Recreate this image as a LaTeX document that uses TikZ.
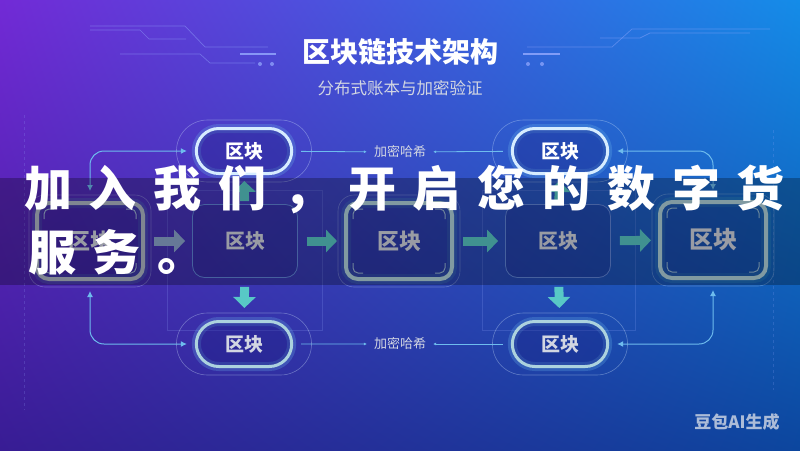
\documentclass[tikz,border=0pt]{standalone}
\usepackage{fontspec}
\newfontfamily\cjk{Noto Sans CJK SC}
\newfontfamily\cjkw[LetterSpace=35]{Noto Sans CJK SC}
\usetikzlibrary{arrows.meta,positioning,calc,fit,shapes.misc,shadings}
\definecolor{bgtl}{RGB}{114,42,214}
\definecolor{bgtr}{RGB}{20,140,232}
\definecolor{bgbl}{RGB}{56,28,148}
\definecolor{bgbr}{RGB}{12,70,158}
\definecolor{cglow}{RGB}{214,236,255}
\definecolor{cpill}{RGB}{172,210,222}
\definecolor{cbox}{RGB}{178,212,222}
\definecolor{cgray}{RGB}{176,184,200}
\definecolor{cthin}{RGB}{96,132,216}
\definecolor{cfill}{RGB}{24,24,120}
\definecolor{ctxt}{RGB}{210,214,226}
\definecolor{clnk}{RGB}{110,188,238}
\definecolor{cteal}{RGB}{88,200,198}
\definecolor{cslate}{RGB}{140,166,208}
\definecolor{cdeco}{RGB}{150,170,255}
\definecolor{cwm}{RGB}{172,188,216}
\tikzset{
  pill/.style={rounded rectangle, draw=cglow, line width=3pt, fill=cfill, fill opacity=0.3,
      text opacity=1, minimum width=102pt, minimum height=45pt, text=white,
      font=\cjk\bfseries\fontsize{19}{19}\selectfont,
      preaction={draw=clnk, line width=9pt, draw opacity=0.25}},
  pdim/.style={draw=cpill, text=ctxt},
  phal/.style={rounded rectangle, draw=cglow, draw opacity=0.35, line width=0.6pt, inner sep=7pt},
  blk/.style={draw=cthin, line width=0.8pt, rounded corners=12pt, fill=cfill, fill opacity=0.2,
      text opacity=1, minimum width=105pt, minimum height=73pt, text=ctxt,
      font=\cjk\bfseries\fontsize{20}{20}\selectfont},
  blkt/.style={blk, draw=cbox, line width=4pt, minimum width=106pt, minimum height=76pt,
      font=\cjk\bfseries\fontsize{22}{22}\selectfont,
      preaction={draw=cteal, line width=10pt, draw opacity=0.15}},
  hal/.style={draw=cglow, draw opacity=0.3, line width=0.6pt, rounded corners=16pt, inner sep=6pt},
  cmk/.style={draw=cbox, line width=1pt, rounded corners=5pt, draw opacity=0.8},
  hlab/.style={font=\cjk\fontsize{13}{13}\selectfont, text=ctxt, inner sep=2pt},
  hsh/.style={draw=clnk, line width=0.8pt, -{Latex[length=3pt,width=3pt]}, shorten <=8pt, shorten >=5pt},
  lnk/.style={draw=clnk, line width=1pt, rounded corners=14pt, {Latex[length=6pt,width=6pt]}-{Latex[length=6pt,width=6pt]},
      shorten <=8pt, shorten >=10pt},
  barw/.style={draw=cteal, line width=9pt, -{Triangle[length=11pt 0,width=22pt 0]}, shorten <=9pt, shorten >=7pt},
  deco/.style={draw=cdeco, line width=0.7pt, draw opacity=0.45},
  frm/.style={draw=cdeco, line width=0.5pt, draw opacity=0.2},
  band/.style={fill=black, fill opacity=0.27},
  ttl/.style={font=\cjk\bfseries\fontsize{28}{28}\selectfont, text=white},
  stl/.style={font=\cjk\fontsize{16.5}{16.5}\selectfont, text=ctxt},
  ovl/.style={font=\cjkw\bfseries\fontsize{48}{48}\selectfont, text=white, inner sep=0pt},
  wmk/.style={font=\cjk\bfseries\fontsize{17}{17}\selectfont, text=cwm},
}
\begin{document}
\begin{tikzpicture}[x=1pt,y=-1pt]
  \useasboundingbox (0,0) rectangle (800,450);
  \shade[upper left=bgtl, upper right=bgtr, lower left=bgbl, lower right=bgbr] (0,0) rectangle (800,450);
  \draw[deco] (90,26) -- (185,26) -- (205,47) -- (268,47);
  \draw[deco] (90,30) -- (140,30) -- (149,39) -- (186,39);
  \draw[deco] (120,54) -- (200,54) -- (210,63) -- (255,63);
  \draw[deco, line width=2pt, draw opacity=0.8] (240,54) -- (276,54);
  \fill[cdeco, opacity=0.7] (260,64) circle (2) (272,64) circle (2);
  \draw[deco] (527,47) -- (612,47) -- (632,29) -- (770,29);
  \draw[deco] (600,38) -- (640,38) -- (650,33) -- (750,33);
  \draw[deco, line width=2pt, draw opacity=0.8] (523,54) -- (560,54);
  \fill[cdeco, opacity=0.7] (528,64) circle (2) (542,64) circle (2);
  \draw[frm, dashed] (24,115) -- (24,410);
  \draw[frm, dashed] (773,130) -- (773,390);
  \draw[frm] (167,190) rectangle (322,330);
  \draw[frm] (482,190) rectangle (635,330);

  \node[ttl] (ttl) at (400,52) {区块链技术架构};
  \node[stl] (sub) at (400,88) {分布式账本与加密验证};

  \node[pill] (tl) at (244,151) {区块};
  \node[pill] (tr) at (560,151) {区块};
  \node[pill, pdim] (bl) at (244,344) {区块};
  \node[pill, pdim] (br) at (560,344) {区块};
  \foreach \n in {tl,tr,bl,br} \node[phal, fit=(\n)] (h\n) {};

  \node[blkt, draw=cgray] (b1) at (90,241) {区块};
  \node[blk] (b2) at (245,241) {区块};
  \node[blkt] (b3) at (399,241) {区块};
  \node[blk] (b4) at (558,241) {区块};
  \node[blkt, font=\cjk\bfseries\fontsize{24}{24}\selectfont] (b5) at (713,240) {区块};
  \foreach \n in {b1,b3,b5} {
    \node[hal, fit=(\n)] (h\n) {};
    \draw[cmk] ([shift={(9,18)}]\n.north west) |- ++(10,-10);
    \draw[cmk] ([shift={(-9,18)}]\n.north east) |- ++(-10,-10);
    \draw[cmk] ([shift={(9,-18)}]\n.south west) |- ++(10,10);
    \draw[cmk] ([shift={(-9,-18)}]\n.south east) |- ++(-10,10);
  }

  \node[hlab] (h1) at (400,152) {加密哈希};
  \node[hlab] (h2) at (400,344) {加密哈希};
  \draw[hsh] (tl) -- (h1);
  \draw[hsh] (tr) -- (h1);
  \draw[hsh] (bl) -- (h2);
  \draw[hsh] (br) -- (h2);

  \draw[lnk] (tl) -| (b1);
  \draw[lnk] (tr) -| (b5);
  \draw[lnk] (bl) -| (b1);
  \draw[lnk] (br) -| (b5);

  \draw[barw, draw=cslate] (b1) -- (b2);
  \draw[barw] (b2) -- (b3);
  \draw[barw] (b3) -- (b4);
  \draw[barw] (b4) -- (b5);
  \draw[barw, shorten >=12pt] (b2) -- (bl);
  \draw[barw, shorten >=12pt] (b4) -- (br);
  \draw[barw, shorten <=3pt, shorten >=6pt] (b2) -- (tl);
  \draw[barw, shorten <=3pt, shorten >=6pt] (b4) -- (tr);

  \fill[band] (0,178) rectangle (800,285);
  \node[ovl, anchor=west] (ln1) at (24,189) {加入我们，开启您的数字货};
  \node[ovl, anchor=west] (ln2) at (28,252) {服务。};

  \node[wmk] (wm) at (737,422) {豆包AI生成};
\end{tikzpicture}
\end{document}
